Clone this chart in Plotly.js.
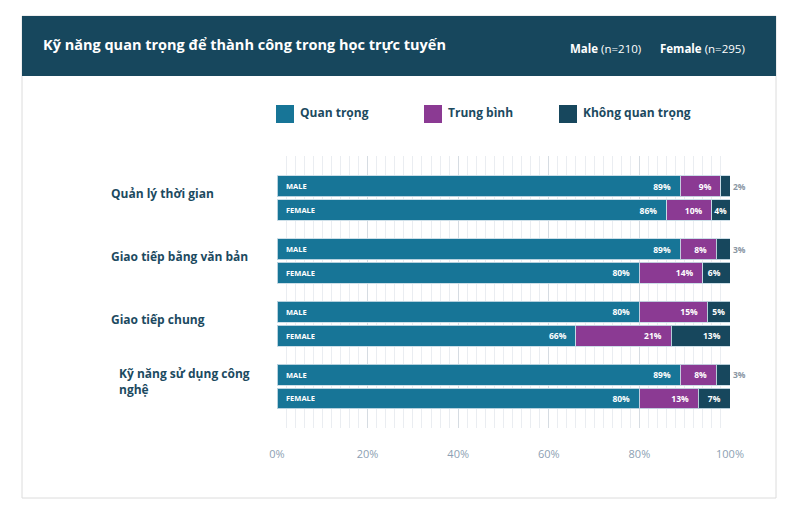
<!DOCTYPE html>
<html>
<head>
<meta charset="utf-8">
<script src="https://cdn.plot.ly/plotly-3.0.1.min.js"></script>
<style>
  html, body { margin: 0; padding: 0; background: #fff; }
  #plot { width: 802px; height: 512px; }
</style>
</head>
<body>
<div id="plot"></div>
<script>
// data
var categories = ['Quản lý thời gian', 'Giao tiếp bằng văn bản', 'Giao tiếp chung', 'Kỹ năng sử dụng công<br>nghệ'];
var genders = ['MALE', 'FEMALE'];
var important = [89, 86, 89, 80, 80, 66, 89, 80];
var neutral = [9, 10, 8, 14, 15, 21, 8, 13];
var notImportant = [2, 4, 3, 6, 5, 13, 3, 7];
var seriesNames = ['Quan trọng', 'Trung bình', 'Không quan trọng'];
var sampleLabels = ['<b>Male</b> (n=210)', '<b>Female</b> (n=295)'];
var chartTitle = 'Kỹ năng quan trọng để thành công trong học trực tuyến';
var xTicks = [0, 20, 40, 60, 80, 100];

var colors = ['#177597', '#8b3a93', '#17475d'];
var ink = '#1c4a5f';
var font = 'Open Sans';

// plot box in page pixels
var L = 277, R = 730, T = 156, B = 428;
var W = R - L, H = B - T;
function px(x) { return (x - L) / W; }
function py(y) { return 1 - (y - T) / H; }

// bar slots: two bars per category, wider gap between categories
var groupStep = 2.64;
var ypos = important.map(function (v, i) { return Math.floor(i / 2) * groupStep + (i % 2); });

function pct(arr) { return arr.map(function (v) { return v + '%'; }); }

// inside labels sit a few px off the segment end, less when the segment is narrow
function padded(arr) {
  return arr.map(function (v) {
    var n = v >= 6 ? 3 : (v >= 5 ? 1 : 0);
    return v + '%' + '\u00a0'.repeat(n);
  });
}

function barTrace(vals, k, positions) {
  return {
    type: 'bar',
    orientation: 'h',
    name: seriesNames[k],
    x: vals,
    y: ypos,
    width: 0.88,
    marker: { color: colors[k], line: { color: 'rgba(200,220,230,0.9)', width: 1 } },
    text: padded(vals),
    textposition: positions,
    textangle: 0,
    insidetextanchor: 'end',
    constraintext: 'none',
    cliponaxis: false,
    textfont: { family: font, size: 8.5, color: '#ffffff', weight: 700 },
    outsidetextfont: { family: font, size: 8.5, color: '#8a96a3', weight: 700 },
    hoverinfo: 'skip',
    showlegend: false
  };
}

var darkPos = notImportant.map(function (v) { return v <= 3 ? 'outside' : 'inside'; });
var data = [
  barTrace(important, 0, 'inside'),
  barTrace(neutral, 1, 'inside'),
  barTrace(notImportant, 2, darkPos)
];
// the outside labels need no padding
data[2].text = data[2].text.map(function (t, i) { return darkPos[i] === 'outside' ? notImportant[i] + '%' : t; });

var annotations = [];
var shapes = [];

// card + header band
shapes.push({ type: 'rect', xref: 'paper', yref: 'paper', layer: 'below',
  x0: px(22), x1: px(776), y0: py(16), y1: py(498),
  line: { color: '#dcdcdc', width: 1 }, fillcolor: '#ffffff' });
shapes.push({ type: 'rect', xref: 'paper', yref: 'paper',
  x0: px(22), x1: px(776), y0: py(16), y1: py(76),
  line: { width: 0 }, fillcolor: '#17475d' });

annotations.push({ xref: 'paper', yref: 'paper', x: px(41), y: py(45),
  xanchor: 'left', yanchor: 'middle', showarrow: false, text: '<b>' + chartTitle + '</b>',
  font: { family: font, size: 14.5, color: '#ffffff' } });
annotations.push({ xref: 'paper', yref: 'paper', x: px(643), y: py(48),
  xanchor: 'right', yanchor: 'middle', showarrow: false, text: sampleLabels[0],
  font: { family: font, size: 11.5, color: '#ffffff' } });
annotations.push({ xref: 'paper', yref: 'paper', x: px(747), y: py(48),
  xanchor: 'right', yanchor: 'middle', showarrow: false, text: sampleLabels[1],
  font: { family: font, size: 11.5, color: '#ffffff' } });

// legend drawn by hand to match the spacing of the reference
var legX = [276, 424, 559];
seriesNames.forEach(function (name, k) {
  shapes.push({ type: 'rect', xref: 'paper', yref: 'paper',
    x0: px(legX[k]), x1: px(legX[k] + 18), y0: py(105), y1: py(123),
    line: { width: 0 }, fillcolor: colors[k] });
  annotations.push({ xref: 'paper', yref: 'paper', x: px(legX[k] + 22), y: py(113),
    xanchor: 'left', yanchor: 'middle', showarrow: false, text: name,
    font: { family: font, size: 12, color: ink, weight: 700 } });
});

// category labels on the left
categories.forEach(function (c, g) {
  annotations.push({ xref: 'paper', yref: 'y', x: px(g === 3 ? 117 : 109), y: ypos[g * 2] + 0.3,
    xanchor: 'left', yanchor: 'middle', align: 'left', showarrow: false, text: c,
    font: { family: font, size: 12, color: ink, weight: 700 } });
});

// MALE / FEMALE tags inside each bar
ypos.forEach(function (y, i) {
  annotations.push({ xref: 'x', yref: 'y', x: 0, y: y, xanchor: 'left', yanchor: 'middle',
    xshift: 7, showarrow: false, text: genders[i % 2],
    font: { family: font, size: 7.5, color: '#ffffff', weight: 700 } });
});

var layout = {
  width: 802,
  height: 512,
  margin: { l: L, r: 802 - R, t: T, b: 512 - B },
  barmode: 'stack',
  bargap: 0,
  paper_bgcolor: '#ffffff',
  plot_bgcolor: 'rgba(0,0,0,0)',
  showlegend: false,
  xaxis: {
    range: [0, 100],
    tickmode: 'array',
    tickvals: xTicks,
    ticktext: pct(xTicks),
    showgrid: true,
    gridcolor: '#d6dce2',
    gridwidth: 1,
    minor: { dtick: 2, showgrid: true, gridcolor: '#eaedf1', gridwidth: 1 },
    zeroline: false,
    showline: false,
    ticks: '',
    ticklabelstandoff: 18,
    tickfont: { family: font, size: 11, color: '#8d9fb3' },
    fixedrange: true
  },
  yaxis: {
    range: [10.16, -1.27],
    showgrid: false,
    zeroline: false,
    showticklabels: false,
    ticks: '',
    fixedrange: true
  },
  shapes: shapes,
  annotations: annotations
};

Plotly.newPlot('plot', data, layout, { displayModeBar: false, staticPlot: true });
</script>
</body>
</html>
